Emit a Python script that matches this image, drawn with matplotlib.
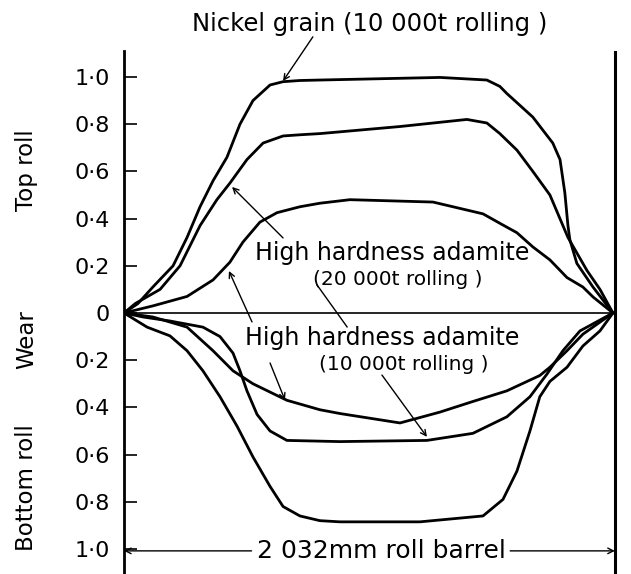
import numpy as np
import matplotlib.pyplot as plt

barrel = 2032   # roll barrel length [mm]

#%% wear profiles (x in mm along the barrel)
# top roll
xNiTop = [0, 58, 120, 204, 262, 316, 370, 428, 482, 536, 607, 661, 731, 814,
          1313, 1508, 1562, 1591, 1699, 1782, 1812, 1832, 1845, 1853, 1882, 1949, 2032]
wNiTop = [0, 0.04, 0.11, 0.20, 0.32, 0.45, 0.56, 0.66, 0.80, 0.90, 0.966, 0.98, 0.985, 0.987,
          0.998, 0.987, 0.96, 0.93, 0.83, 0.72, 0.65, 0.51, 0.37, 0.31, 0.21, 0.11, 0]

xAd20Top = [0, 47, 150, 233, 316, 386, 440, 511, 578, 661, 731, 814, 1147, 1425,
            1508, 1562, 1633, 1699, 1770, 1845, 1924, 1978, 2032]
wAd20Top = [0, 0.04, 0.10, 0.20, 0.37, 0.48, 0.55, 0.65, 0.72, 0.75, 0.755, 0.76, 0.79, 0.82,
            0.805, 0.76, 0.69, 0.60, 0.50, 0.32, 0.18, 0.10, 0]

xAd10Top = [0, 120, 262, 370, 440, 494, 565, 636, 731, 814, 939, 1284, 1492, 1562,
            1633, 1699, 1770, 1841, 1907, 1949, 2032]
wAd10Top = [0, 0.03, 0.07, 0.14, 0.215, 0.30, 0.385, 0.425, 0.45, 0.465, 0.48, 0.47, 0.42, 0.38,
            0.34, 0.28, 0.225, 0.15, 0.11, 0.068, 0]

# bottom roll
xNiBot = [0, 96, 191, 262, 328, 399, 470, 536, 607, 661, 731, 814, 897, 1230,
          1492, 1575, 1633, 1687, 1728, 1770, 1841, 1907, 1978, 2032]
wNiBot = [0, 0.06, 0.097, 0.16, 0.245, 0.355, 0.48, 0.61, 0.735, 0.82, 0.86, 0.88, 0.885, 0.885,
          0.86, 0.79, 0.67, 0.50, 0.355, 0.29, 0.23, 0.14, 0.076, 0]

xAd20Bot = [0, 79, 191, 328, 399, 453, 482, 511, 553, 607, 677, 897, 1259, 1450,
            1591, 1687, 1757, 1824, 1895, 2032]
wAd20Bot = [0, 0.017, 0.034, 0.06, 0.10, 0.17, 0.245, 0.33, 0.43, 0.50, 0.54, 0.545, 0.54, 0.51,
            0.44, 0.355, 0.26, 0.16, 0.076, 0]

xAd10Bot = [0, 120, 262, 370, 453, 536, 677, 814, 897, 1147, 1313, 1450, 1591, 1728,
            1770, 1841, 1907, 2032]
wAd10Bot = [0, 0.017, 0.06, 0.16, 0.245, 0.30, 0.37, 0.41, 0.426, 0.466, 0.42, 0.375, 0.33, 0.265,
            0.23, 0.16, 0.09, 0]

yTicks = [1.0, 0.8, 0.6, 0.4, 0.2, 0, -0.2, -0.4, -0.6, -0.8, -1.0]
yTickLabels = ['1·0', '0·8', '0·6', '0·4', '0·2', '0', '0·2', '0·4', '0·6', '0·8', '1·0']

#%% plot
plt.rcParams['font.family'] = 'DejaVu Sans'
fig = plt.figure(figsize=(6.31, 5.74), dpi=100)
ax = fig.add_axes([124/631, 0, 494/631, 523/574])
lw = 2.0
for x, w in [(xNiTop, wNiTop), (xAd20Top, wAd20Top), (xAd10Top, wAd10Top)]:
    ax.plot(x, w, 'k-', lw=lw, solid_capstyle='round', solid_joinstyle='round')
for x, w in [(xNiBot, wNiBot), (xAd20Bot, wAd20Bot), (xAd10Bot, wAd10Bot)]:
    ax.plot(x, -np.array(w), 'k-', lw=lw, solid_capstyle='round', solid_joinstyle='round')

ax.plot([0, barrel], [0, 0], 'k-', lw=1.2)          # zero wear line
ax.axvline(barrel + 8, color='k', lw=2.2)            # right end of barrel

ax.set_xlim(0, 2053)
ax.set_ylim(-1.106, 1.11)
for s in ['top', 'right', 'bottom']:
    ax.spines[s].set_visible(False)
ax.spines['left'].set_linewidth(2.0)
ax.set_xticks([])
ax.set_yticks(yTicks)
ax.set_yticklabels(yTickLabels, fontsize=16)
ax.tick_params(axis='y', direction='in', length=9.5, width=1.2, pad=10)

# axis labels
trans = ax.get_yaxis_transform()
for txt, yc in [('Top roll', 0.606), ('Wear', -0.114), ('Bottom roll', -0.74)]:
    ax.text(-0.197, yc, txt, transform=trans, rotation=90, fontsize=16.5,
            ha='center', va='center', clip_on=False)

# curve labels
ax.text(1022, 1.225, 'Nickel grain (10 000t rolling )', fontsize=17.5,
        ha='center', va='center', clip_on=False)
ax.text(1113, 0.254, 'High hardness adamite', fontsize=17, ha='center', va='center')
ax.text(1139, 0.140, '(20 000t rolling )', fontsize=14.5, ha='center', va='center')
ax.text(1072, -0.106, 'High hardness adamite', fontsize=17, ha='center', va='center')
ax.text(1163, -0.220, '(10 000t rolling )', fontsize=14.5, ha='center', va='center')

arrow = dict(arrowstyle='->', lw=1.0, color='k', shrinkA=0, shrinkB=0)
for tail, tip in [((785, 1.17), (661, 0.983)),
                  ((661, 0.318), (449, 0.534)),
                  ((532, -0.038), (436, 0.178)),
                  ((607, -0.212), (669, -0.369)),
                  ((1072, -0.263), (1259, -0.525))]:
    ax.annotate('', xy=tip, xytext=tail, arrowprops=arrow, annotation_clip=False)
ax.plot([802, 927], [0.119, -0.059], 'k-', lw=1.0)   # leader from 20 000t label

# barrel length dimension
yDim = -1.008
ax.annotate('', xy=(0, yDim), xytext=(530, yDim), arrowprops=arrow)
ax.annotate('', xy=(barrel + 8, yDim), xytext=(1605, yDim), arrowprops=arrow)
ax.text(1068, yDim, '2 032mm roll barrel', fontsize=18, ha='center', va='center')

plt.savefig('out.png', dpi=100)
